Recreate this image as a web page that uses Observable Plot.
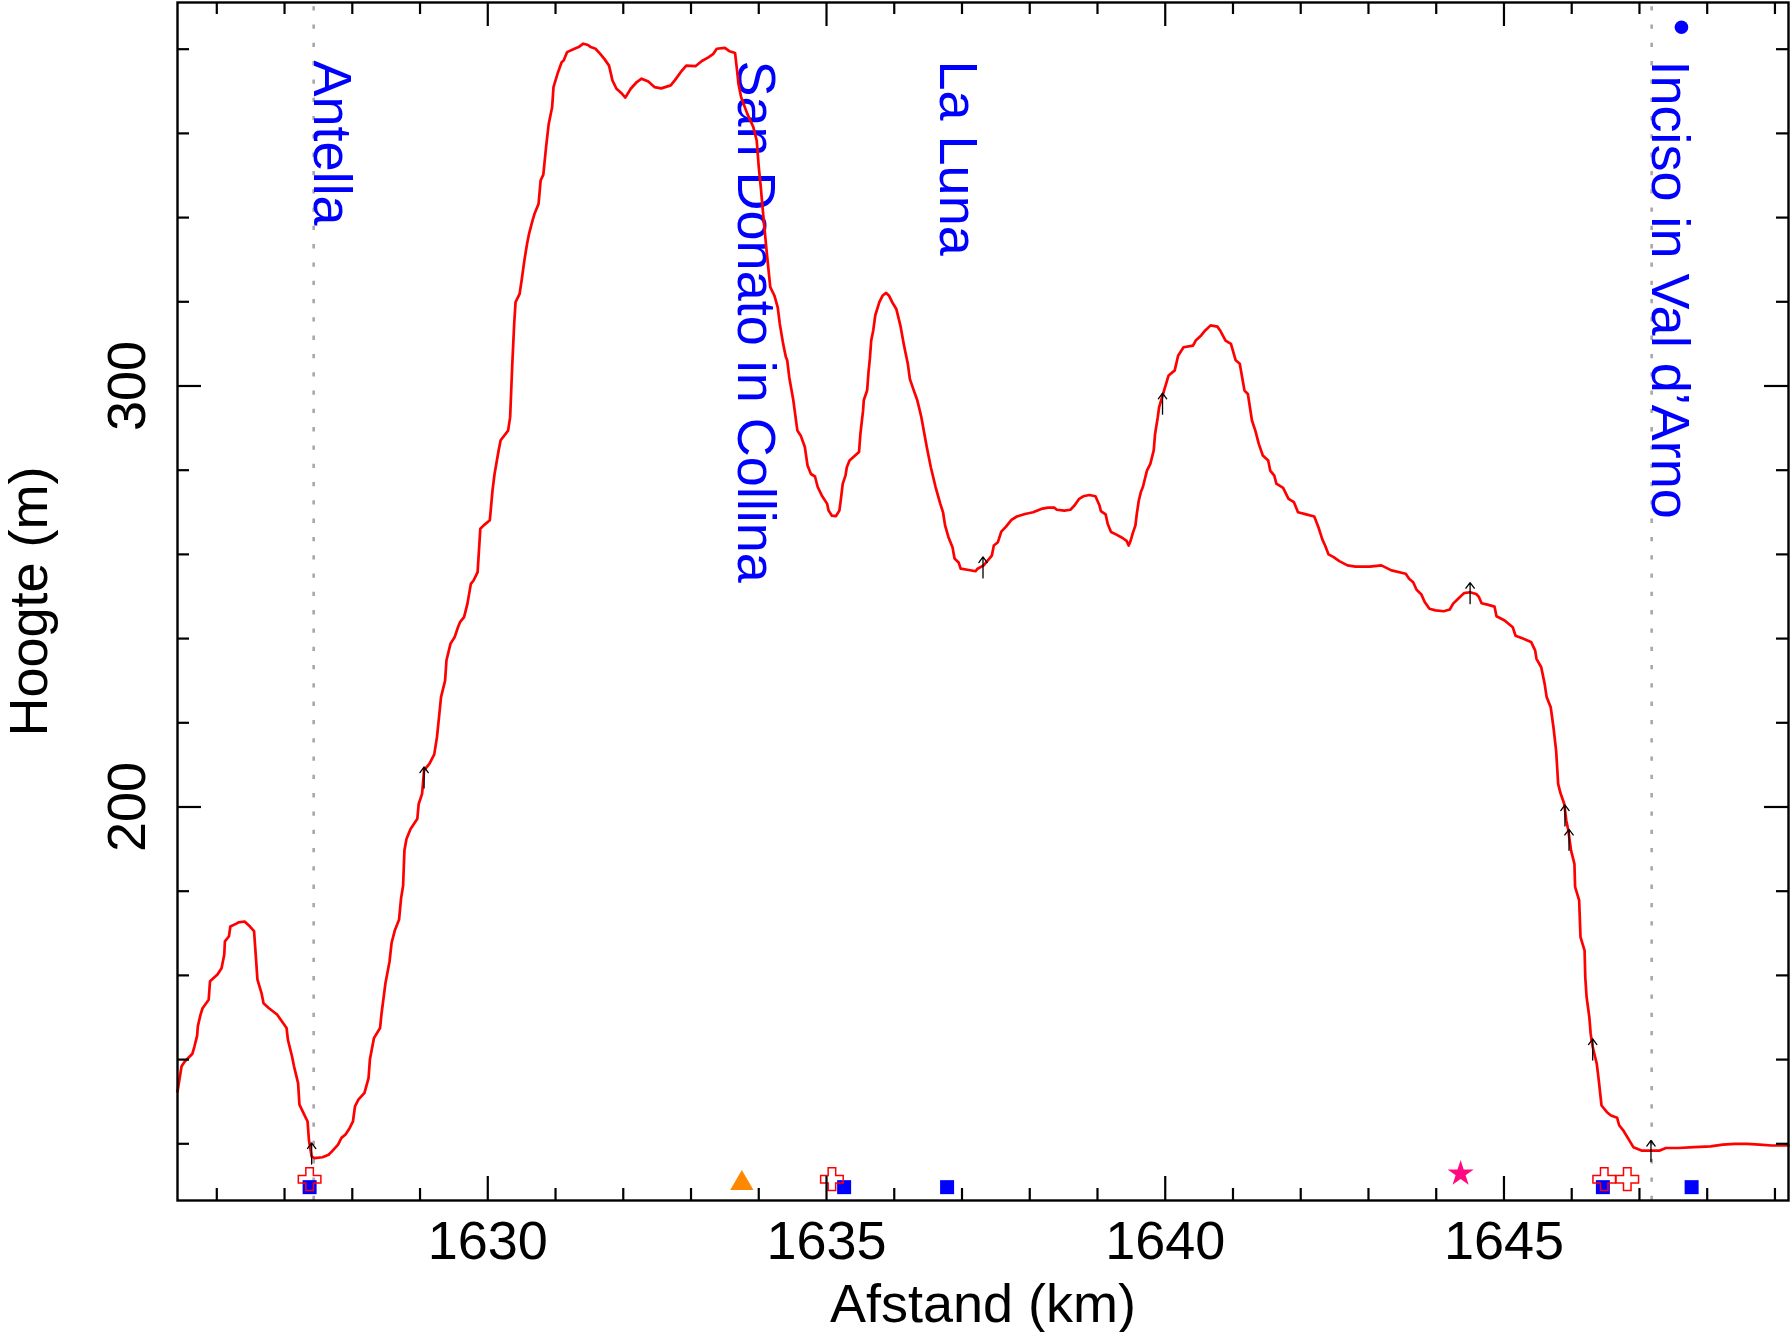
<!DOCTYPE html>
<html>
<head>
<meta charset="utf-8">
<script src="https://cdn.jsdelivr.net/npm/d3@7"></script>
<script src="https://cdn.jsdelivr.net/npm/@observablehq/plot@0.6"></script>
<style>
  html, body { margin: 0; padding: 0; background: #ffffff; }
  svg { display: block; }
</style>
</head>
<body>
<div id="chart"></div>
<script>
// ---------- DATA ----------
const distanceKm = [
  1625.42,1625.48,1625.53,1625.64,1625.67,1625.71,1625.72,1625.76,1625.79,1625.88,1625.90,1626.01,1626.07,1626.11,1626.12,1626.18,1626.20,1626.29,1626.32,1626.41,
  1626.49,1626.55,1626.58,1626.60,1626.66,1626.69,1626.77,1626.89,1627.03,1627.05,1627.11,1627.14,1627.20,1627.22,1627.28,1627.34,1627.36,1627.40,1627.44,1627.56,
  1627.65,1627.70,1627.79,1627.84,1627.90,1627.96,1628.01,1628.04,1628.09,1628.18,1628.24,1628.26,1628.32,1628.41,1628.43,1628.49,1628.55,1628.58,1628.63,1628.69,
  1628.72,1628.75,1628.77,1628.80,1628.86,1628.96,1628.98,1629.03,1629.06,1629.14,1629.21,1629.25,1629.28,1629.31,1629.37,1629.39,1629.45,1629.51,1629.56,1629.59,
  1629.65,1629.70,1629.75,1629.79,1629.85,1629.89,1629.94,1630.03,1630.07,1630.10,1630.16,1630.19,1630.30,1630.33,1630.36,1630.39,1630.41,1630.47,1630.50,1630.54,
  1630.58,1630.61,1630.66,1630.69,1630.75,1630.78,1630.82,1630.86,1630.90,1630.95,1630.97,1631.03,1631.09,1631.12,1631.17,1631.28,1631.34,1631.41,1631.48,1631.52,
  1631.59,1631.66,1631.72,1631.79,1631.84,1631.90,1631.97,1632.03,1632.11,1632.20,1632.27,1632.37,1632.46,1632.56,1632.70,1632.76,1632.85,1632.93,1633.07,1633.16,
  1633.25,1633.33,1633.38,1633.50,1633.57,1633.65,1633.68,1633.70,1633.74,1633.83,1633.92,1633.97,1634.00,1634.03,1634.06,1634.12,1634.17,1634.23,1634.28,1634.31,
  1634.36,1634.40,1634.42,1634.45,1634.51,1634.57,1634.62,1634.68,1634.72,1634.77,1634.83,1634.87,1634.93,1635.01,1635.03,1635.08,1635.14,1635.19,1635.21,1635.24,
  1635.28,1635.30,1635.34,1635.48,1635.50,1635.54,1635.55,1635.60,1635.62,1635.64,1635.66,1635.69,1635.72,1635.78,1635.83,1635.88,1635.92,1635.97,1636.03,1636.09,
  1636.14,1636.17,1636.20,1636.23,1636.28,1636.34,1636.40,1636.48,1636.54,1636.61,1636.68,1636.72,1636.75,1636.80,1636.86,1636.89,1636.95,1636.98,1637.10,1637.20,
  1637.23,1637.32,1637.44,1637.47,1637.53,1637.58,1637.65,1637.73,1637.81,1637.93,1638.05,1638.17,1638.27,1638.36,1638.40,1638.51,1638.60,1638.66,1638.73,1638.79,
  1638.88,1638.97,1639.03,1639.05,1639.12,1639.15,1639.20,1639.28,1639.37,1639.43,1639.46,1639.49,1639.52,1639.56,1639.58,1639.61,1639.64,1639.67,1639.73,1639.78,
  1639.83,1639.85,1639.89,1639.91,1639.99,1640.05,1640.14,1640.19,1640.27,1640.41,1640.45,1640.53,1640.59,1640.67,1640.77,1640.81,1640.89,1640.97,1641.04,1641.10,
  1641.17,1641.22,1641.28,1641.33,1641.38,1641.44,1641.52,1641.55,1641.61,1641.64,1641.74,1641.82,1641.90,1641.96,1642.08,1642.20,1642.26,1642.32,1642.36,1642.41,
  1642.48,1642.57,1642.69,1642.81,1643.02,1643.19,1643.34,1643.55,1643.60,1643.66,1643.71,1643.78,1643.83,1643.90,1643.99,1644.11,1644.20,1644.25,1644.32,1644.41,
  1644.50,1644.59,1644.63,1644.67,1644.77,1644.86,1644.89,1645.01,1645.13,1645.17,1645.28,1645.40,1645.46,1645.48,1645.55,1645.60,1645.63,1645.69,1645.73,1645.77,
  1645.80,1645.83,1645.89,1645.92,1645.95,1645.99,1646.04,1646.05,1646.11,1646.13,1646.19,1646.20,1646.22,1646.26,1646.28,1646.31,1646.37,1646.40,1646.44,1646.52,
  1646.58,1646.67,1646.70,1646.76,1646.85,1646.91,1647.03,1647.18,1647.30,1647.39,1647.57,1647.81,1648.05,1648.23,1648.41,1648.59,1648.77,1648.95,1649.20
];
const elevationM = [
  132.4,138.4,139.6,141.4,143.1,145.7,147.9,150.7,152.2,154.2,158.6,160.2,161.7,164.9,168.1,169.3,171.6,172.3,172.6,172.8,
  171.6,170.5,163.7,159.0,155.8,153.4,152.2,150.7,147.5,144.7,140.8,138.4,134.4,129.3,127.3,125.3,120.9,117.0,116.6,116.8,
  117.4,118.2,119.8,121.4,122.2,123.7,125.3,128.9,130.5,132.1,135.6,140.0,145.1,147.5,150.7,158.2,163.3,167.7,170.8,173.2,
  178.3,181.3,189.7,192.4,194.8,197.2,200.7,203.1,208.7,210.3,212.5,216.6,221.3,226.1,230.0,234.8,238.8,240.3,242.7,243.9,
  245.1,248.3,253.0,253.8,255.8,266.1,266.9,268.1,275.2,279.1,284.7,287.1,289.4,292.6,304.5,314.8,319.9,321.9,325.1,329.8,
  333.8,336.2,339.3,340.9,343.3,348.8,350.2,356.7,362.3,366.2,371.0,374.2,376.9,377.3,379.3,380.1,380.5,381.3,381.0,380.5,
  380.1,378.9,377.7,376.1,372.6,370.6,369.6,368.5,370.6,372.2,373.0,372.3,371.0,370.7,371.4,372.6,374.6,376.1,376.0,377.2,
  378.0,378.9,380.1,380.3,379.5,379.1,374.9,371.8,368.6,364.7,361.5,358.3,352.0,347.2,341.7,331.4,323.5,321.5,318.7,314.8,
  310.0,306.9,306.1,302.1,296.6,289.4,288.2,285.5,281.1,279.1,278.5,276.0,274.0,272.0,270.4,269.2,269.1,270.4,272.8,276.8,
  278.7,280.7,282.3,284.3,288.6,294.2,296.6,299.0,303.3,306.5,310.8,313.2,316.8,319.9,321.5,322.1,321.5,319.9,318.3,314.4,
  310.0,307.6,305.3,301.7,299.3,296.6,292.6,285.5,280.7,276.0,272.0,270.0,266.9,264.1,261.7,259.0,258.1,256.6,256.3,256.0,
  256.6,257.4,259.7,262.1,262.9,265.4,266.6,268.2,269.0,269.6,270.0,270.8,271.1,271.1,270.6,270.4,270.6,271.6,273.2,273.8,
  274.1,273.8,271.6,270.3,269.5,267.3,265.3,264.7,263.9,263.2,262.1,263.3,265.0,266.9,269.6,272.8,274.8,276.0,279.9,281.5,
  284.7,288.6,292.6,295.0,299.3,302.5,303.7,307.2,309.2,309.6,310.8,312.0,313.2,314.4,314.1,313.2,310.8,310.0,306.1,305.3,
  298.9,298.1,291.8,289.4,286.3,283.5,282.3,279.9,278.7,276.8,275.8,273.2,272.4,270.0,269.5,269.0,266.5,263.5,262.1,260.0,
  259.4,258.4,257.4,257.1,257.1,257.4,256.2,255.4,254.2,253.4,251.6,250.5,248.7,247.1,246.7,246.5,246.9,248.3,249.4,250.8,
  251.0,250.6,249.9,248.4,248.0,247.6,245.3,244.3,242.7,240.7,240.0,239.2,237.2,235.2,233.2,229.3,226.1,223.7,219.0,213.4,
  205.5,203.5,200.7,196.8,194.4,189.7,186.5,181.0,177.8,169.1,165.9,159.6,154.8,150.1,146.1,143.0,139.0,135.0,129.1,127.5,
  126.7,126.2,124.4,123.2,120.8,119.2,118.4,118.4,118.4,119.0,119.0,119.2,119.4,119.8,120.0,120.0,119.8,119.6,119.6
];

// small arrows along the profile (tip position)
const arrowKm   = [1627.40, 1629.06, 1637.31, 1639.96, 1644.50, 1645.90, 1645.96, 1646.31, 1647.17];
const arrowElev = [120.2,   209.5,   259.4,   298.3,   253.3,   200.5,   194.7,   144.9,   120.8];

// place names (rotated labels)
const placeNames = ["Antella", "San Donato in Collina", "La Luna", "Inciso in Val d\u2019Arno"];
const placeKm    = [1627.43, 1633.69, 1636.68, 1647.18];

// dotted vertical reference lines
const dottedKm = [1627.43, 1647.18];

// point-of-interest markers along the bottom
const squareKm   = [1627.37, 1635.26, 1636.78, 1646.46, 1647.77];
const squareElev = [109.7, 109.7, 109.7, 109.7, 109.7];
const crossKm    = [1627.37, 1635.08, 1646.48, 1646.82];
const crossElev  = [111.6, 111.6, 111.6, 111.6];
const triangleKm = [1633.75];
const triangleElev = [110.6];
const starKm     = [1644.36];
const starElev   = [112.9];
const dotKm      = [1647.62];
const dotElev    = [385.2];

// axes
const xDomain = [1625.42, 1649.2];
const yDomain = [106.53, 391.09];
const xMajorTicks = [1630, 1635, 1640, 1645];
const xMinorTicks = [1626,1627,1628,1629,1631,1632,1633,1634,1636,1637,1638,1639,1641,1642,1643,1644,1646,1647,1648,1649];
const yMajorTicks = [200, 300];
const yMinorTicks = [120,140,160,180,220,240,260,280,320,340,360,380];
const xLabel = "Afstand (km)";
const yLabel = "Hoogte (m)";

// ---------- BUILD ----------
const W = 1790, H = 1332;
const mL = 177, mR = 2, mT = 2, mB = 132;
const innerW = W - mL - mR, innerH = H - mT - mB;
const FONT = "'Liberation Sans', Arial, Helvetica, sans-serif";
const FS = 54;

const profile = distanceKm.map((x, i) => ({x, y: elevationM[i]}));
const arrows = arrowKm.map((x, i) => ({x, y: arrowElev[i]}));
const places = placeNames.map((name, i) => ({name, x: placeKm[i]}));
const pts = (xs, ys) => xs.map((x, i) => ({x, y: ys[i]}));

const chart = Plot.plot({
  width: W, height: H,
  marginLeft: mL, marginRight: mR, marginTop: mT, marginBottom: mB,
  x: {domain: xDomain, axis: null},
  y: {domain: yDomain, axis: null},
  style: {fontFamily: FONT, fontSize: FS + "px", background: "#ffffff", overflow: "visible"},
  marks: [
    Plot.ruleX(dottedKm, {x: d => d, y1: () => yDomain[0], y2: () => yDomain[1],
      stroke: "#a8a8a8", strokeWidth: 2.6, strokeDasharray: "4.3,14"}),
    Plot.text(places, {x: "x", text: "name", frameAnchor: "top", dy: 58, rotate: 90,
      textAnchor: "start", lineAnchor: "bottom", fill: "#0000ff", fontSize: FS}),
    Plot.line(profile, {x: "x", y: "y", stroke: "#ff0000", strokeWidth: 2.7}),
    Plot.arrow(arrows, {x1: "x", x2: "x", y1: d => d.y - 5, y2: "y",
      stroke: "#000000", strokeWidth: 1.3, headLength: 9.5, headAngle: 73}),
    Plot.dot(pts(squareKm, squareElev), {x: "x", y: "y", symbol: "square", r: 7.9, fill: "#0000ff", stroke: "none"}),
    Plot.dot(pts(crossKm, crossElev), {x: "x", y: "y", symbol: "cross", r: 9.5, fill: "none", stroke: "#ff0000", strokeWidth: 1.5}),
    Plot.dot(pts(triangleKm, triangleElev), {x: "x", y: "y", symbol: "triangle", r: 8.65, fill: "#ff8800", stroke: "none"}),
    Plot.dot(pts(starKm, starElev), {x: "x", y: "y", symbol: "star", r: 8.2, fill: "#ff0a80", stroke: "none"}),
    Plot.dot(pts(dotKm, dotElev), {x: "x", y: "y", r: 6.8, fill: "#0000ff", stroke: "none"}),
    Plot.frame({stroke: "#000000", strokeWidth: 2.4}),
    // inward ticks: bottom & top
    Plot.tickX(xMajorTicks, {x: d => d, insetTop: innerH - 24, stroke: "#000", strokeWidth: 2.2}),
    Plot.tickX(xMajorTicks, {x: d => d, insetBottom: innerH - 24, stroke: "#000", strokeWidth: 2.2}),
    Plot.tickX(xMinorTicks, {x: d => d, insetTop: innerH - 12, stroke: "#000", strokeWidth: 2.2}),
    Plot.tickX(xMinorTicks, {x: d => d, insetBottom: innerH - 12, stroke: "#000", strokeWidth: 2.2}),
    // inward ticks: left & right
    Plot.tickY(yMajorTicks, {y: d => d, insetRight: innerW - 24, stroke: "#000", strokeWidth: 2.2}),
    Plot.tickY(yMajorTicks, {y: d => d, insetLeft: innerW - 24, stroke: "#000", strokeWidth: 2.2}),
    Plot.tickY(yMinorTicks, {y: d => d, insetRight: innerW - 12, stroke: "#000", strokeWidth: 2.2}),
    Plot.tickY(yMinorTicks, {y: d => d, insetLeft: innerW - 12, stroke: "#000", strokeWidth: 2.2}),
    // tick labels
    Plot.text(xMajorTicks, {x: d => d, text: d => String(d), frameAnchor: "bottom", dy: 58.3,
      lineAnchor: "bottom", textAnchor: "middle", fill: "#000", fontSize: FS}),
    Plot.text(yMajorTicks, {y: d => d, text: d => String(d), frameAnchor: "left", dx: -32.3,
      rotate: -90, lineAnchor: "bottom", textAnchor: "middle", fill: "#000", fontSize: FS}),
    // axis titles
    Plot.text([xLabel], {text: d => d, frameAnchor: "bottom", dy: 121.7,
      lineAnchor: "bottom", textAnchor: "middle", fill: "#000", fontSize: FS}),
    Plot.text([yLabel], {text: d => d, frameAnchor: "left", dx: -131,
      rotate: -90, lineAnchor: "bottom", textAnchor: "middle", fill: "#000", fontSize: FS})
  ]
});
document.getElementById("chart").appendChild(chart);
</script>
</body>
</html>
